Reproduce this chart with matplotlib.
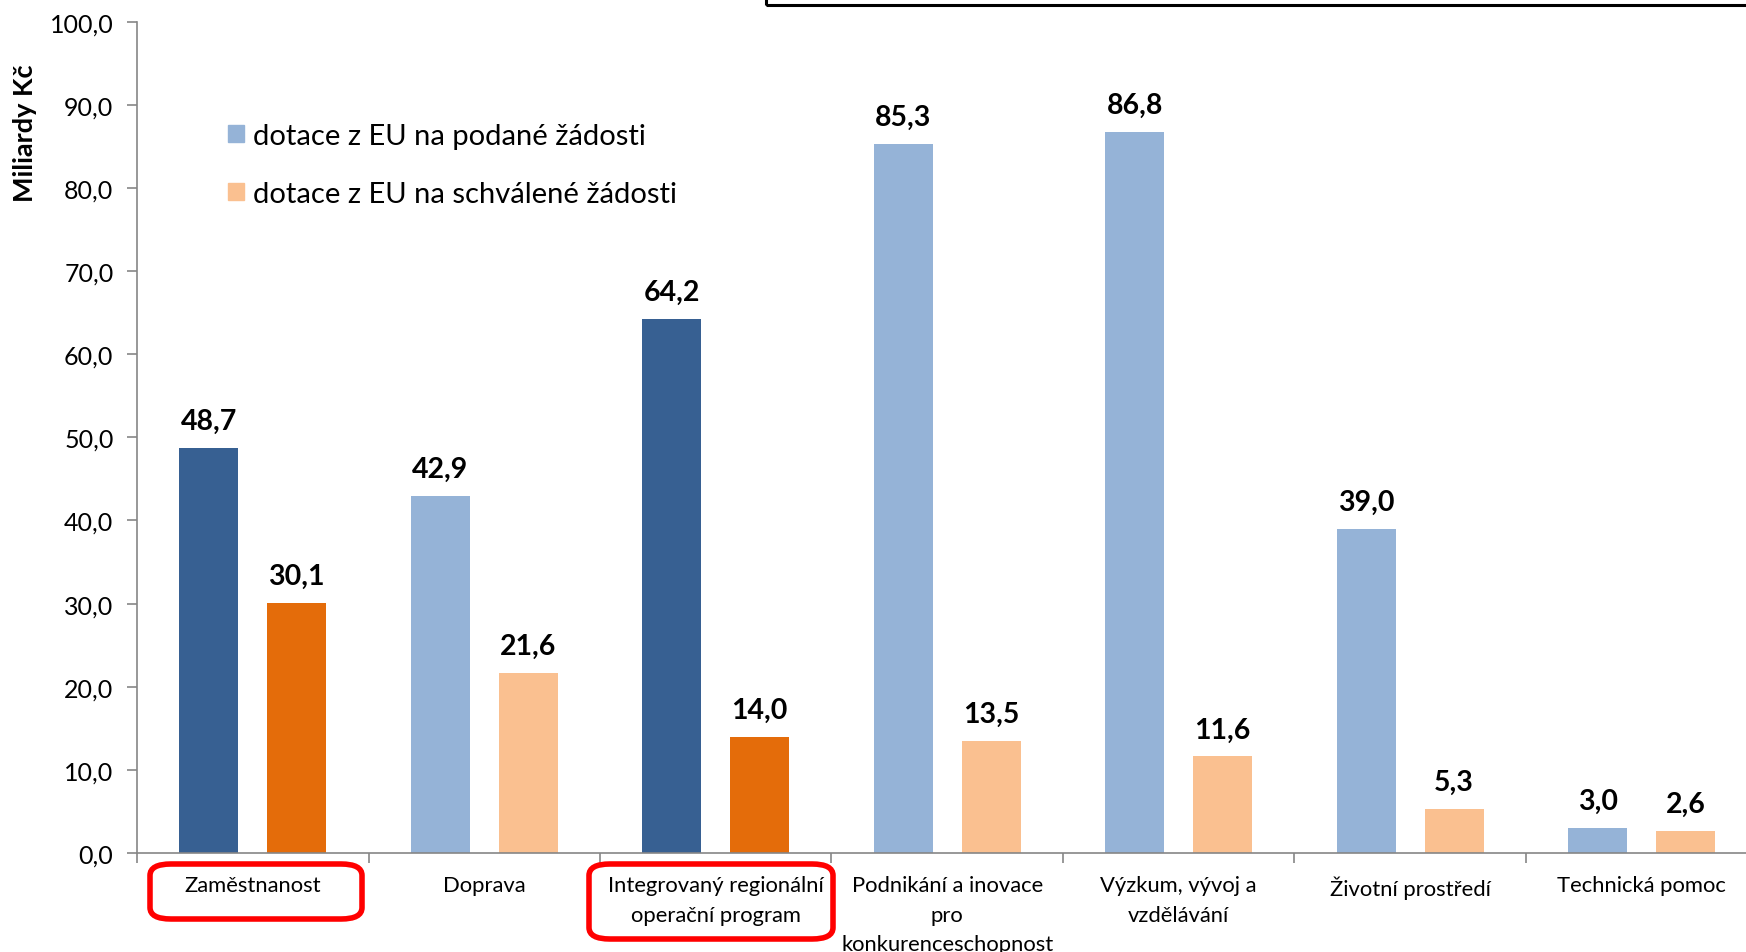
import matplotlib.pyplot as plt
from matplotlib.patches import FancyBboxPatch, Rectangle, Patch
import numpy as np

plt.rcParams['font.family'] = ['Lato', 'DejaVu Sans']

categories = ['Zaměstnanost', 'Doprava', 'Integrovaný regionální\noperační program',
              'Podnikání a inovace\npro\nkonkurenceschopnost', 'Výzkum, vývoj a\nvzdělávání',
              'Životní prostředí', 'Technická pomoc']
podane = [48.7, 42.9, 64.2, 85.3, 86.8, 39.0, 3.0]
schvalene = [30.1, 21.6, 14.0, 13.5, 11.6, 5.3, 2.6]
highlight = [0, 2]
yticks = np.arange(0, 101, 10)

blue_l, blue_d = '#95b3d7', '#376092'
orange_l, orange_d = '#fac090', '#e46c0a'

fig = plt.figure(figsize=(17.46, 9.53), dpi=100)
ax = fig.add_axes([0.0785, 0.104, 0.928, 0.872])

x = np.arange(len(categories))
w = 0.255
cb = [blue_d if i in highlight else blue_l for i in x]
co = [orange_d if i in highlight else orange_l for i in x]
ax.bar(x - 0.19, podane, w, color=cb)
ax.bar(x + 0.19, schvalene, w, color=co)

for i in x:
    ax.text(i - 0.19, podane[i] + 1.7, f'{podane[i]:.1f}'.replace('.', ','),
            ha='center', va='bottom', fontsize=20.5, fontweight='bold')
    ax.text(i + 0.19, schvalene[i] + 1.7, f'{schvalene[i]:.1f}'.replace('.', ','),
            ha='center', va='bottom', fontsize=20.5, fontweight='bold')

ax.set_xlim(-0.5, 6.5)
ax.set_ylim(0, 100)
ax.set_yticks(yticks)
ax.set_yticklabels([f'{v:.1f}'.replace('.', ',') for v in yticks], fontsize=18)
ax.set_xticks(x)
ax.set_xticklabels(categories, fontsize=15.8, va='top', linespacing=1.6)
ax.set_xticks(np.arange(-0.5, 7, 1), minor=True)
ax.tick_params(axis='x', which='major', length=0, pad=16)
ax.tick_params(axis='x', which='minor', length=7, color='#868686', width=1.2, direction='out')
ax.tick_params(axis='y', length=7, color='#868686', width=1.2, pad=10)
for s in ['top', 'right']:
    ax.spines[s].set_visible(False)
for s in ['left', 'bottom']:
    ax.spines[s].set_color('#868686')
    ax.spines[s].set_linewidth(1.2)

fig.text(0.0145, 0.86, 'Miliardy Kč', rotation=90, ha='center', va='center',
         fontsize=19.5, fontweight='bold')

handles = [Patch(color=blue_l), Patch(color=orange_l)]
ax.legend(handles, ['dotace z EU na podané žádosti', 'dotace z EU na schválené žádosti'],
          loc='upper left', bbox_to_anchor=(0.04, 0.91), frameon=False, fontsize=21,
          handlelength=0.55, handleheight=0.55, handletextpad=0.3, labelspacing=1.1)

# red rounded frames around highlighted labels
for (x0, y0, x1, y1) in [(150, 865, 362, 920), (589, 865, 833, 940)]:
    fig.patches.append(FancyBboxPatch((x0 / 1746, 1 - y1 / 953), (x1 - x0) / 1746, (y1 - y0) / 953,
                                      boxstyle='round,pad=0,rounding_size=0.012',
                                      transform=fig.transFigure, fill=False,
                                      edgecolor='#ff0000', linewidth=4))

# box edge at the top
fig.patches.append(Rectangle((766 / 1746, 1 - 6 / 953), 1, 0.1, transform=fig.transFigure,
                             fill=False, edgecolor='black', linewidth=2.2))

fig.savefig('out.png', dpi=100)
